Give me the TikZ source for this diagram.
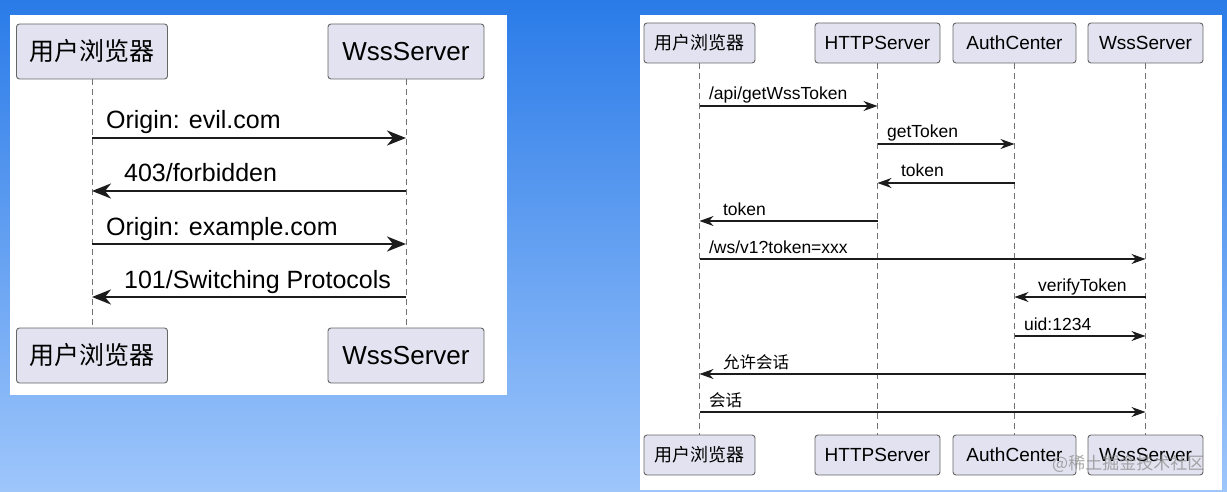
\documentclass[tikz,border=0pt]{standalone}
\usepackage{fontspec}
\setmainfont{Liberation Sans}
\newfontfamily\cjk{Noto Sans CJK SC}
\usetikzlibrary{arrows.meta}
\definecolor{bgtop}{HTML}{2A7BE8}
\definecolor{bgbot}{HTML}{9EC6FB}
\definecolor{actfill}{HTML}{E2E2F0}
\definecolor{ink}{HTML}{1C1C1C}

\begin{document}
\begin{tikzpicture}[x=1pt, y=-1pt, %pixel units, y goes down
  actor/.style={draw=black!60, fill=actfill, line width=0.9pt, rounded corners=3pt, inner sep=0pt},
  bigA/.style={actor, minimum height=55, font=\fontsize{26}{26}\selectfont},
  smallA/.style={actor, minimum height=40, font=\fontsize{19}{19}\selectfont},
  life/.style={draw=black!55, line width=0.8pt, dash pattern=on 6pt off 4pt},
  bigmsg/.style={draw=ink, line width=2.2pt, -{Stealth[length=19pt,width=15pt,inset=6pt]}},
  smallmsg/.style={draw=ink, line width=1.2pt, -{Stealth[length=14pt,width=10pt,inset=4.5pt]}},
  biglbl/.style={anchor=base west, inner sep=0pt, font=\fontsize{25}{25}\selectfont},
  smalllbl/.style={anchor=base west, inner sep=0pt, font=\fontsize{17.5}{17.5}\selectfont}]

\useasboundingbox (0,0) rectangle (1227,492);
\shade[top color=bgtop, bottom color=bgbot] (0,0) rectangle (1227,492);

%% left picture: origin check
\fill[white] (10,15) rectangle (507,395);
\node[bigA, minimum width=151, font=\cjk\fontsize{25}{25}\selectfont] (lu) at (92,51.5) {用户浏览器};
\node[bigA, minimum width=156] (lw) at (406,51.5) {WssServer};
\node[bigA, minimum width=151, font=\cjk\fontsize{25}{25}\selectfont] (lu2) at (92,355.5) {用户浏览器};
\node[bigA, minimum width=156] (lw2) at (406,355.5) {WssServer};
\draw[life] (lu) -- (lu2);
\draw[life] (lw) -- (lw2);

\draw[bigmsg] (lu |- 0,138) -- (lw |- 0,138)
  node[biglbl, pos=0, xshift=13pt, yshift=9pt] (l1) {Origin: evil.com};
\draw[bigmsg] (lw |- 0,191) -- (lu |- 0,191)
  node[biglbl, pos=1, xshift=31pt, yshift=9pt] (l2) {403/forbidden};
\draw[bigmsg] (lu |- 0,244) -- (lw |- 0,244)
  node[biglbl, pos=0, xshift=13pt, yshift=9pt] (l3) {Origin: example.com};
\draw[bigmsg] (lw |- 0,297) -- (lu |- 0,297)
  node[biglbl, pos=1, xshift=31pt, yshift=9pt] (l4) {101/Switching Protocols};

%% right picture: token handshake
\fill[white] (640,15) rectangle (1222,490);
\node[smallA, minimum width=111, font=\cjk\fontsize{18}{18}\selectfont] (ru) at (699.5,43) {用户浏览器};
\node[smallA, minimum width=125] (rh) at (877.5,43) {HTTPServer};
\node[smallA, minimum width=123] (ra) at (1014.5,43) {AuthCenter};
\node[smallA, minimum width=115] (rw) at (1145.5,43) {WssServer};
\node[smallA, minimum width=111, font=\cjk\fontsize{18}{18}\selectfont] (ru2) at (699.5,455) {用户浏览器};
\node[smallA, minimum width=125] (rh2) at (877.5,455) {HTTPServer};
\node[smallA, minimum width=123] (ra2) at (1014.5,455) {AuthCenter};
\node[smallA, minimum width=115] (rw2) at (1145.5,455) {WssServer};
\foreach \a in {ru,rh,ra,rw}
  \draw[life] (\a) -- (\a2);

\draw[smallmsg] (ru |- 0,106) -- (rh |- 0,106)
  node[smalllbl, pos=0, xshift=9pt, yshift=6pt] (r1) {/api/getWssToken};
\draw[smallmsg] (rh |- 0,144) -- (ra |- 0,144)
  node[smalllbl, pos=0, xshift=9pt, yshift=6pt] (r2) {getToken};
\draw[smallmsg] (ra |- 0,183) -- (rh |- 0,183)
  node[smalllbl, pos=1, xshift=23pt, yshift=6pt] (r3) {token};
\draw[smallmsg] (rh |- 0,221) -- (ru |- 0,221)
  node[smalllbl, pos=1, xshift=23pt, yshift=6pt] (r4) {token};
\draw[smallmsg] (ru |- 0,259) -- (rw |- 0,259)
  node[smalllbl, pos=0, xshift=9pt, yshift=6pt] (r5) {/ws/v1?token=xxx};
\draw[smallmsg] (rw |- 0,297) -- (ra |- 0,297)
  node[smalllbl, pos=1, xshift=23pt, yshift=6pt] (r6) {verifyToken};
\draw[smallmsg] (ra |- 0,336) -- (rw |- 0,336)
  node[smalllbl, pos=0, xshift=9pt, yshift=6pt] (r7) {uid:1234};
\draw[smallmsg] (rw |- 0,374) -- (ru |- 0,374)
  node[smalllbl, pos=1, xshift=23pt, yshift=6pt, font=\cjk\fontsize{16.5}{16.5}\selectfont] (r8) {允许会话};
\draw[smallmsg] (ru |- 0,412) -- (rw |- 0,412)
  node[smalllbl, pos=0, xshift=9pt, yshift=6pt, font=\cjk\fontsize{16.5}{16.5}\selectfont] (r9) {会话};

% watermark (sits over the last box, as in the screenshot)
\node[anchor=west, inner sep=0pt, text=black!45, opacity=.75, font=\cjk\fontsize{17}{17}\selectfont] (wm) at (1052,464) {@稀土掘金技术社区};
\end{tikzpicture}
\end{document}
